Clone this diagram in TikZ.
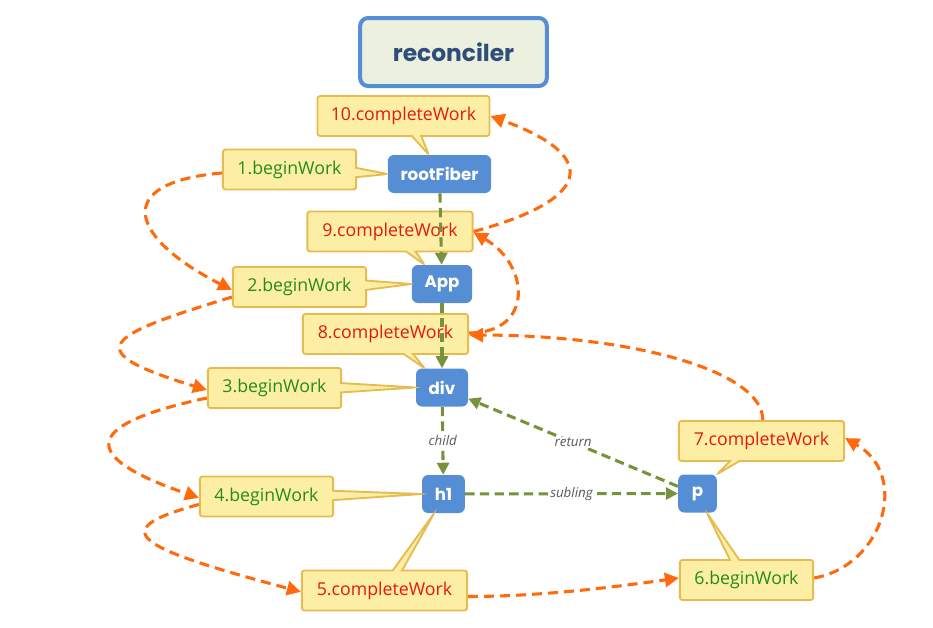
\documentclass[tikz,border=0pt]{standalone}
\usepackage{fontspec}
\setmainfont{Open Sans}
\newfontfamily\popfont{Poppins}
\usepackage{tikz}
\usetikzlibrary{calc,arrows.meta,shapes.callouts}

\definecolor{treeblue}{HTML}{558ED5}
\definecolor{recfill}{HTML}{EBF1DE}
\definecolor{rectext}{HTML}{2E4D7B}
\definecolor{notefill}{HTML}{FCEFA5}
\definecolor{noteline}{HTML}{E6BC50}
\definecolor{begingreen}{HTML}{258A1E}
\definecolor{compred}{HTML}{E3190C}
\definecolor{walkorange}{HTML}{FF6A0D}
\definecolor{linkgreen}{HTML}{76923C}

\begin{document}
\begin{tikzpicture}[x=0.75pt,y=0.75pt,
  fiber/.style={fill=treeblue,rounded corners=4.5pt,text=white,
    font=\popfont\bfseries\fontsize{12.5}{14}\selectfont,
    minimum height=28.5pt,minimum width=29pt,inner xsep=9.5pt},
  worknote/.style={rectangle callout,fill=notefill,draw=noteline,line width=1.4pt,
    rounded corners=2pt,callout pointer width=7pt,minimum height=30pt,
    font=\fontsize{13.3}{15}\selectfont},
  beginnote/.style={worknote,minimum width=100pt,text=begingreen},
  donenote/.style={worknote,minimum width=124pt,text=compred},
  walk/.style={-{Triangle[length=10.5pt,width=10.5pt]},walkorange,line width=2.3pt,
    dash pattern=on 7.5pt off 4.5pt},
  link/.style={-{Triangle[length=9pt,width=9pt]},linkgreen,line width=2.3pt,
    dash pattern=on 7pt off 4pt},
  lbl/.style={fill=white,inner sep=1pt,text=black!65,
    font=\itshape\fontsize{10}{12}\selectfont}]
  \useasboundingbox (0,0) rectangle (933,-628);

  \node[draw=treeblue,line width=3pt,fill=recfill,rounded corners=6pt,
    minimum width=140pt,minimum height=51pt,text=rectext,
    font=\popfont\bfseries\fontsize{17.5}{20}\selectfont] (rec) at (453.5,-52) {reconciler};

  % fiber tree
  \node[fiber] (root) at (439.5,-174) {rootFiber};
  \node[fiber] (App) at (442,-284) {App};
  \node[fiber] (div) at (442,-387.5) {div};
  \node[fiber] (h1) at (443.5,-494) {h1};
  \node[fiber] (p) at (697.5,-493.5) {p};

  % work notes
  \node[donenote,minimum width=129pt,callout absolute pointer={([xshift=-8pt]root.north)}] (c10) at (403.5,-116) {10.completeWork};
  \node[beginnote,callout absolute pointer={(root.west)}] (b1) at (289.5,-169.5) {1.beginWork};
  \node[donenote,callout absolute pointer={([xshift=-13pt]App.north)}] (c9) at (390,-231.5) {9.completeWork};
  \node[beginnote,callout absolute pointer={(App.west)}] (b2) at (299.5,-287) {2.beginWork};
  \node[donenote,callout absolute pointer={([xshift=-13pt]div.north)}] (c8) at (385.5,-334) {8.completeWork};
  \node[beginnote,callout absolute pointer={(div.west)}] (b3) at (274.5,-388) {3.beginWork};
  \node[beginnote,callout absolute pointer={(h1.west)}] (b4) at (266.5,-496.5) {4.beginWork};
  \node[donenote,callout absolute pointer={([xshift=-7pt]h1.south)}] (c5) at (384.5,-590.5) {5.completeWork};
  \node[beginnote,callout absolute pointer={([xshift=7pt]p.south)}] (b6) at (746.5,-580) {6.beginWork};
  \node[donenote,callout absolute pointer={(p.north east)}] (c7) at (761.5,-441) {7.completeWork};

  % child / sibling / return
  \draw[link] (root) -- (App);
  \draw[link] (App) -- (div);
  \draw[link] (div) -- node[lbl]{child} (h1);
  \draw[link] (h1) -- node[lbl]{subling} (p);
  \draw[link] (p.160) -- node[lbl]{return} (div.337);

  % work order
  \draw[walk] ([yshift=-2.6pt]b1.west) .. controls +(185:113) and +(153:113) .. ([yshift=-2.2pt]b2.west);
  \draw[walk] ([yshift=-7.5pt]b2.west) .. controls +(197:135) and +(163:135) .. ([yshift=-1.5pt]b3.west);
  \draw[walk] ([yshift=-7.5pt]b3.west) .. controls +(192:128) and +(161:128) .. ([yshift=-1pt]b4.west);
  \draw[walk] ([yshift=-6pt]b4.west) .. controls +(195:100) and +(165:170) .. ([yshift=-1pt]c5.west);
  \draw[walk] ([yshift=-4.5pt]c5.east) .. controls +(0:70) and +(188:70) .. ([yshift=1.5pt]b6.west);
  \draw[walk] ([yshift=1.5pt]b6.east) .. controls +(10:70) and +(-30:75) .. ([yshift=2.2pt]c7.east);
  \draw[walk] ([xshift=1pt]c7.north) .. controls +(90:50) and +(0:160) .. ([yshift=-0.8pt]c8.east);
  \draw[walk] ([yshift=0.8pt]c8.east) .. controls +(0:65) and +(-30:65) .. ([yshift=-0.8pt]c9.east);
  \draw[walk] (c9.east) .. controls +(15:120) and +(-20:120) .. (c10.east);
\end{tikzpicture}
\end{document}
